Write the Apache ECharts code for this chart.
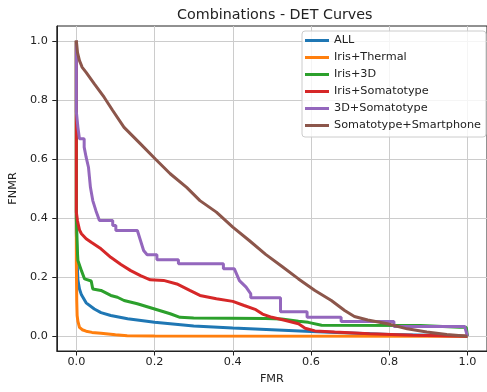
<!DOCTYPE html>
<html>
<head>
<meta charset="utf-8">
<script src="https://cdn.jsdelivr.net/npm/echarts@6/dist/echarts.min.js"></script>
<style>html,body{margin:0;padding:0;background:#fff}#c{width:487px;height:392px}</style>
</head>
<body>
<div id="c"></div>
<script>
const seriesNames = ['ALL', 'Iris+Thermal', 'Iris+3D', 'Iris+Somatotype', '3D+Somatotype', 'Somatotype+Smartphone'];
const tickValues = [0, 0.2, 0.4, 0.6, 0.8, 1.0];

const allPts = [[0,1],[0,0.35],[0.002,0.25],[0.004,0.19],[0.008,0.16],[0.013,0.14],[0.025,0.113],[0.046,0.092],[0.063,0.08],[0.088,0.07],[0.131,0.059],[0.2,0.047],[0.3,0.035],[0.4,0.028],[0.5,0.022],[0.6,0.016],[0.7,0.011],[0.8,0.006],[0.9,0.003],[1,0]];
const irisThermalPts = [[0,1],[0,0.25],[0.001,0.12],[0.002,0.07],[0.004,0.05],[0.008,0.03],[0.015,0.022],[0.025,0.017],[0.04,0.013],[0.063,0.01],[0.1,0.005],[0.13,0.002],[0.2,0.001],[1,0]];
const iris3DPts = [[0,1],[0,0.4],[0.003,0.279],[0.004,0.256],[0.013,0.222],[0.021,0.194],[0.038,0.187],[0.042,0.16],[0.063,0.155],[0.088,0.138],[0.105,0.132],[0.122,0.121],[0.156,0.11],[0.198,0.093],[0.24,0.076],[0.265,0.064],[0.3,0.062],[0.484,0.06],[0.525,0.058],[0.568,0.051],[0.593,0.047],[0.627,0.037],[0.88,0.036],[0.98,0.03],[0.997,0.03],[1,0]];
const irisSomatoPts = [[0,1],[0,0.42],[0.003,0.39],[0.008,0.36],[0.013,0.347],[0.025,0.33],[0.038,0.318],[0.063,0.296],[0.088,0.267],[0.114,0.243],[0.139,0.222],[0.164,0.205],[0.189,0.191],[0.223,0.189],[0.257,0.177],[0.29,0.155],[0.316,0.138],[0.358,0.127],[0.4,0.118],[0.429,0.104],[0.459,0.09],[0.476,0.075],[0.5,0.064],[0.535,0.053],[0.568,0.042],[0.585,0.027],[0.61,0.018],[0.66,0.014],[0.75,0.008],[0.86,0.003],[1,0]];
const d3SomatoPts = [[0,1],[0,0.76],[0.004,0.707],[0.008,0.707],[0.008,0.668],[0.02,0.668],[0.02,0.64],[0.025,0.606],[0.031,0.572],[0.036,0.504],[0.042,0.459],[0.05,0.425],[0.059,0.392],[0.093,0.392],[0.093,0.375],[0.101,0.375],[0.101,0.358],[0.156,0.358],[0.164,0.324],[0.172,0.29],[0.181,0.276],[0.206,0.276],[0.206,0.259],[0.261,0.259],[0.261,0.245],[0.376,0.245],[0.376,0.228],[0.404,0.228],[0.417,0.188],[0.434,0.166],[0.446,0.143],[0.446,0.13],[0.522,0.13],[0.522,0.083],[0.59,0.083],[0.59,0.064],[0.677,0.064],[0.677,0.05],[0.812,0.05],[0.812,0.033],[0.993,0.033],[1,0]];
const somatoPhonePts = [[0,1],[0.003,0.96],[0.008,0.933],[0.015,0.91],[0.025,0.893],[0.046,0.854],[0.071,0.809],[0.093,0.764],[0.122,0.707],[0.164,0.651],[0.202,0.6],[0.24,0.55],[0.282,0.504],[0.316,0.459],[0.358,0.42],[0.4,0.369],[0.442,0.324],[0.484,0.277],[0.526,0.236],[0.568,0.194],[0.61,0.155],[0.652,0.121],[0.686,0.087],[0.711,0.067],[0.745,0.055],[0.795,0.042],[0.846,0.025],[0.896,0.014],[0.947,0.006],[1,0]];

const seriesData = [allPts, irisThermalPts, iris3DPts, irisSomatoPts, d3SomatoPts, somatoPhonePts];
const colors = ['#1f77b4', '#ff7f0e', '#2ca02c', '#d62728', '#9467bd', '#8c564b'];

const FONT = 'DejaVu Sans';
const chart = echarts.init(document.getElementById('c'), null, {renderer: 'canvas'});

function axisCommon(name, isX) {
  return {
    type: 'value',
    min: -0.05,
    max: 1.05,
    name: name,
    nameLocation: 'middle',
    nameGap: isX ? 23 : 33,
    nameTextStyle: {fontFamily: FONT, fontSize: 11.25, color: '#222'},
    axisLine: {show: true, onZero: false, lineStyle: {color: '#222', width: 1}},
    axisTick: {show: true, inside: false, length: 4.5, customValues: tickValues, lineStyle: {color: '#222', width: 1}},
    axisLabel: {show: true, customValues: tickValues, margin: isX ? 6 : 9, fontFamily: FONT, fontSize: 11.25, color: '#222',
      formatter: v => v.toFixed(1)},
    splitLine: {show: true, lineStyle: {color: '#cccccc', width: 1}}
  };
}

chart.setOption({
  animation: false,
  backgroundColor: '#fff',
  title: {
    text: 'Combinations - DET Curves',
    left: 172,
    top: 3,
    textStyle: {fontFamily: FONT, fontSize: 14.3, fontWeight: 'normal', color: '#222'}
  },
  grid: {left: 55, top: 26, right: -4, bottom: 41, show: true, borderColor: '#222', borderWidth: 1, backgroundColor: 'transparent'},
  xAxis: axisCommon('FMR', true),
  yAxis: axisCommon('FNMR', false),
  legend: {
    orient: 'vertical',
    left: 302,
    top: 31,
    padding: [4, 5, 6, 3],
    itemGap: 6,
    itemWidth: 24,
    itemHeight: 3,
    icon: 'rect',
    backgroundColor: 'rgba(255,255,255,0.8)',
    borderColor: '#cccccc',
    borderWidth: 1,
    borderRadius: 3,
    textStyle: {fontFamily: FONT, fontSize: 11.25, color: '#222'},
    data: seriesNames
  },
  series: seriesNames.map((n, i) => ({
    name: n,
    type: 'line',
    data: seriesData[i],
    symbol: 'none',
    color: colors[i],
    itemStyle: {color: colors[i]},
    lineStyle: {width: 3, color: colors[i]},
    z: 2 + i,
    clip: true
  }))
});
</script>
</body>
</html>
